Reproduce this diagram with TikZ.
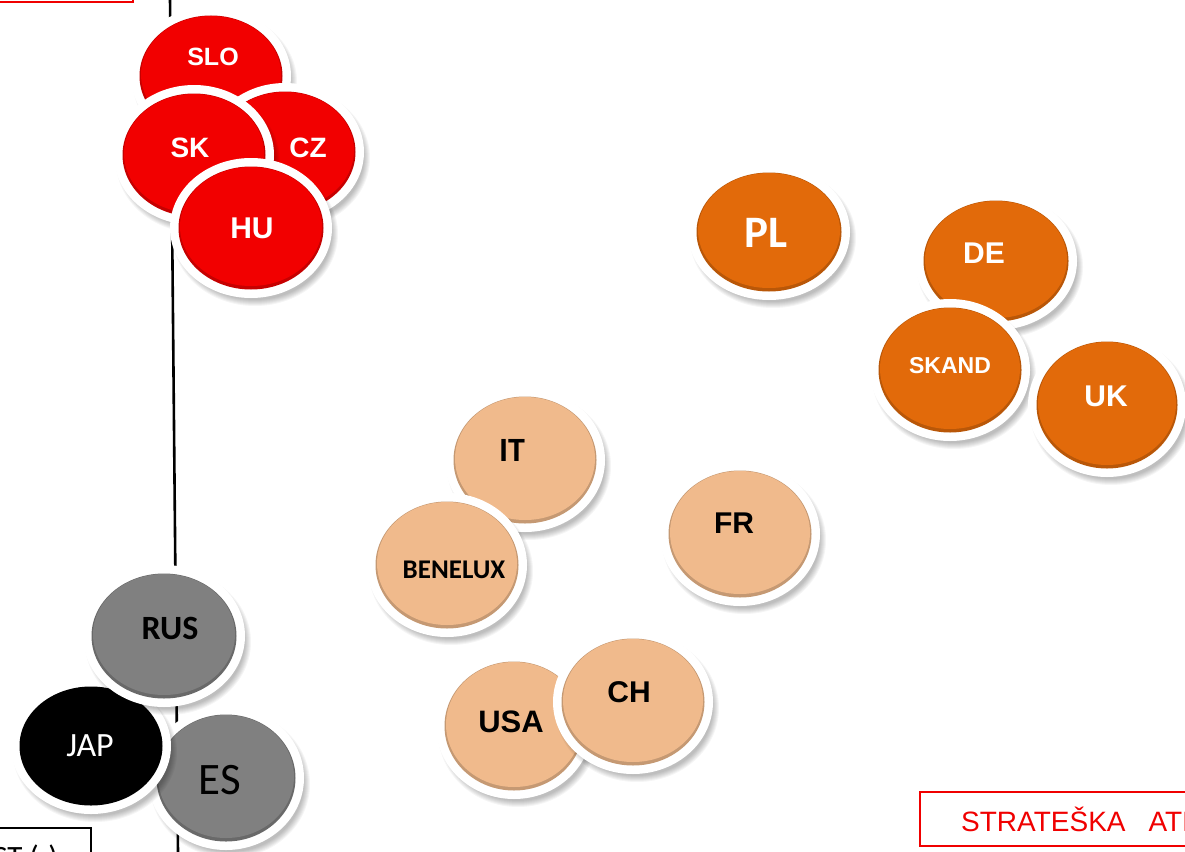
\documentclass[tikz,border=0pt]{standalone}
\usepackage{fontspec}
\setmainfont{Liberation Sans}
\newfontfamily\calib{Carlito}
\usetikzlibrary{shapes.geometric}
\definecolor{cred}{RGB}{242,0,0}
\definecolor{corange}{RGB}{226,106,10}
\definecolor{cpeach}{RGB}{240,186,140}
\definecolor{cgray}{RGB}{128,128,128}
\definecolor{cblack}{RGB}{0,0,0}
\definecolor{boxred}{RGB}{240,0,0}
\tikzset{
  outerb/.style={ellipse, fill=white, inner sep=0pt, outer sep=0pt},
  innerb/.style={ellipse, inner sep=0pt, outer sep=0pt},
  lbl/.style={inner sep=0pt, anchor=center},
  fa/.style={font=\bfseries\fontsize{#1}{#1}\selectfont},
  fc/.style={font=\calib\bfseries\fontsize{#1}{#1}\selectfont},
  fcr/.style={font=\calib\fontsize{#1}{#1}\selectfont},
}
% #1 name, #2 x, #3 y, #4 rx, #5 ry, #6 colour
\newcommand\bubble[6]{%
  \foreach \k in {0,...,6}{\fill[black, opacity=0.04] (#2+4,#3+6) ellipse [x radius={(#4-4+\k)*1pt}, y radius={(#5-4+\k)*1pt}];}
  \node[outerb, minimum width={2*#4*1pt}, minimum height={2*#5*1pt}] (#1) at (#2,#3) {};
  \node[innerb, fill=#6!82!black, minimum width={(2*#4-17)*1pt}, minimum height={(2*#5-17)*1pt}] (#1-rim) at (#1) {};
  \node[innerb, fill=#6, minimum width={(2*#4-20)*1pt}, minimum height={(2*#5-21)*1pt}] (#1-in) at ([yshift=1.5pt]#1.center) {};
}
\begin{document}
\begin{tikzpicture}[x=1pt,y=-1pt]
\useasboundingbox (0,0) rectangle (1185,851);
\clip (0,0) rectangle (1185,851);
\fill[white] (0,0) rectangle (1185,851);

% axis line
\coordinate (axtop) at (170,-2);
\coordinate (axbot) at (178,853);
\draw[line width=2.6pt, black] (axtop) -- (axbot);

% boxes
\draw[boxred, line width=1.8pt] (-10,-30) rectangle (133,2);
\draw[black, line width=1.4pt] (-10,828) rectangle (91,880);
\node[fcr=31, anchor=base east, inner sep=0pt] (leftlbl) at (58,867) {NOST (-)};
\draw[boxred, line width=1.8pt] (920,792) rectangle (1230,846);
\node[font=\fontsize{28}{28}\selectfont, text=boxred, anchor=base west, inner sep=0pt] (rightlbl) at (961,831) {STRATEŠKA\hspace{23pt}ATRAKTIVNOST (+)};

% red group
\bubble{SLO}{211}{76}{80}{69}{cred}
\node[lbl, fa=25, text=white] (SLO-l) at (213,57) {SLO};
\bubble{CZ}{285}{152}{79}{69}{cred}
\node[lbl, fa=28, text=white] (CZ-l) at (308,148) {CZ};
\bubble{SK}{194}{155}{80}{70}{cred}
\node[lbl, fa=28, text=white] (SK-l) at (190,148) {SK};
\bubble{HU}{251}{228}{81}{70}{cred}
\node[lbl, fa=30, text=white] (HU-l) at (252,228) {HU};

% orange group
\bubble{PL}{769}{232}{81}{68}{corange}
\node[lbl, fc=45, text=white] (PL-l) at (766,233) {PL};
\bubble{DE}{996}{261}{81}{69}{corange}
\node[lbl, fa=30, text=white] (DE-l) at (984,253) {DE};
\bubble{SKAND}{950}{370}{80}{71}{corange}
\node[lbl, fa=23, text=white] (SKAND-l) at (950,366) {SKAND};
\bubble{UK}{1107}{405}{79}{72}{corange}
\node[lbl, fa=30, text=white] (UK-l) at (1106,396) {UK};

% peach group
\bubble{IT}{525}{460}{80}{72}{cpeach}
\node[lbl, fc=34, text=black] (IT-l) at (512,450) {IT};
\bubble{BENELUX}{447}{565}{80}{72}{cpeach}
\node[lbl, fc=27, text=black] (BENELUX-l) at (454,570) {BENELUX};
\bubble{FR}{740}{534}{80}{72}{cpeach}
\node[lbl, fa=30, text=black] (FR-l) at (734,523) {FR};
\bubble{USA}{514}{726}{78}{73}{cpeach}
\node[lbl, fa=31, text=black] (USA-l) at (511,722) {USA};
\bubble{CH}{633}{702}{80}{72}{cpeach}
\node[lbl, fa=30, text=black] (CH-l) at (629,692) {CH};

% gray / black group
\bubble{ES}{226}{778}{78}{72}{cgray}
\node[lbl, fcr=45, text=black] (ES-l) at (220,780) {ES};
\bubble{JAP}{91}{746}{80}{68}{cblack}
\node[lbl, fcr=34, text=white] (JAP-l) at (90,746) {JAP};
\bubble{RUS}{164}{636}{81}{71}{cgray}
\node[lbl, fc=34, text=black] (RUS-l) at (170,628) {RUS};
\end{tikzpicture}
\end{document}
